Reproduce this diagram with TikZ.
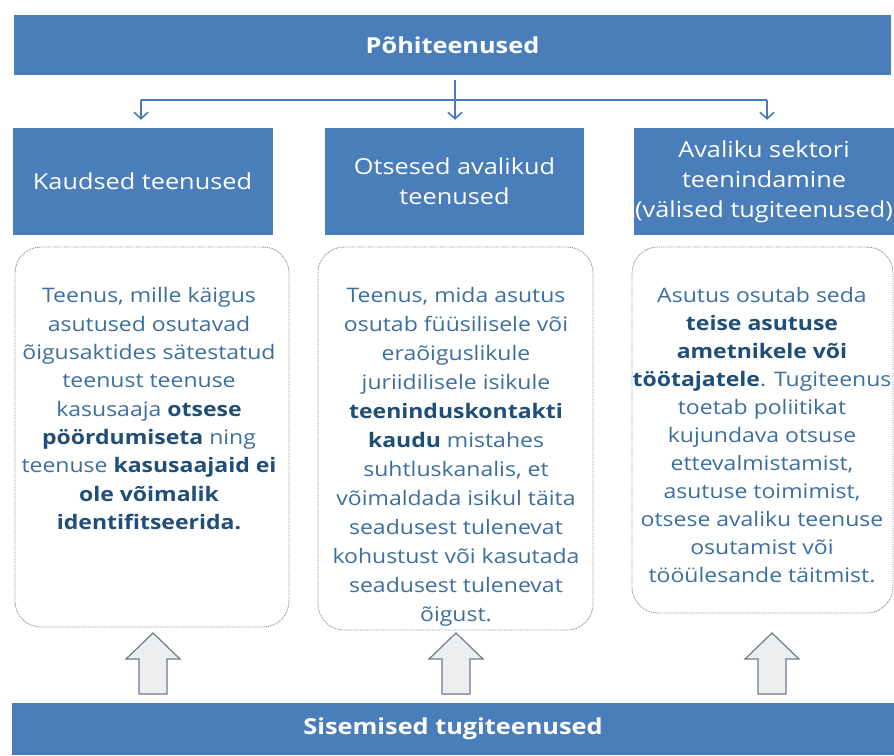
\documentclass[tikz,border=0pt]{standalone}
\usepackage{fontspec}
\setmainfont{Open Sans}[FakeStretch=1.15]
\usetikzlibrary{arrows.meta}
\definecolor{barblue}{HTML}{4A7EBB}
\definecolor{linkblue}{HTML}{4A7BBF}
\definecolor{bodyblue}{HTML}{3D6F9E}
\definecolor{boldblue}{HTML}{1F4E79}
\definecolor{dotgrey}{HTML}{8092A8}
\definecolor{arrowfill}{HTML}{ECEEF0}
\definecolor{arrowline}{HTML}{6F7C8C}
\newcommand{\strongword}[1]{{\bfseries\color{boldblue}#1}}
\tikzset{
  liftarrow/.pic={
    \draw[fill=arrowfill, draw=arrowline, line width=1.2pt, line join=miter]
      (-14,0) -- (-14,-35) -- (-27,-35) -- (0,-61) -- (27,-35) -- (14,-35) -- (14,0) -- cycle;
  }
}
\begin{document}
\begin{tikzpicture}[x=1pt, y=-1pt,
  bar/.style={fill=barblue, inner sep=0pt, text=white,
    font=\fontsize{22}{26}\selectfont\bfseries},
  hdrbox/.style={fill=barblue, inner sep=0pt, minimum height=107pt},
  hdrtext/.style={text=white, align=center, inner sep=0pt,
    font=\fontsize{22}{30}\selectfont},
  card/.style={draw=dotgrey, line width=0.9pt, dash pattern=on 0.9pt off 0.9pt,
    rounded corners=26pt, inner sep=0pt},
  cardtext/.style={text=bodyblue, align=center, anchor=north, inner sep=0pt},
  link/.style={draw=linkblue, line width=1.6pt},
  tip/.style={link, -{Straight Barb[length=6.5pt,width=14pt,line width=1.6pt]}}
]
\fill[white] (0,0) rectangle (894,755);
\useasboundingbox (0,0) rectangle (894,755);

% top bar
\node[bar, minimum width=877pt, minimum height=60pt] (top) at (452.5,45) {Põhiteenused};

% three service headers
\node[hdrbox, minimum width=260pt] (h1) at (142.5,181.5) {};
\node[hdrbox, minimum width=259pt] (h2) at (454.5,181.5) {};
\node[hdrbox, minimum width=260pt] (h3) at (764,181.5) {};
\node[hdrtext] (h1t) at (h1) {Kaudsed teenused};
\node[hdrtext] (h2t) at (h2) {Otsesed avalikud\\teenused};
\node[hdrtext] (h3t) at (h3) {Avaliku sektori\\teenindamine\\(välised tugiteenused)};

% branching connector
\coordinate (jm) at (455,100);
\coordinate (jl) at (141,100);
\coordinate (jr) at (767,100);
\draw[link] ([yshift=-5pt]top.south -| jm) -- (jm);
\draw[link] (jl) -- (jr);
\draw[tip, shorten >=8pt] (jl) -- (jl |- h1.north);
\draw[tip, shorten >=8pt] (jm) -- (jm |- h2.north);
\draw[tip, shorten >=8pt] (jr) -- (jr |- h3.north);

% description cards
\node[card, minimum width=274pt, minimum height=380pt] (c1) at (152,437) {};
\node[card, minimum width=275pt, minimum height=383pt] (c2) at (455.5,438.5) {};
\node[card, minimum width=261pt, minimum height=366pt] (c3) at (762.5,430) {};

\node[cardtext, font=\fontsize{20}{28.3}\selectfont] (t1) at (149,287.5)
  {Teenus, mille käigus\\asutused osutavad\\õigusaktides sätestatud\\teenust teenuse\\
   kasusaaja \strongword{otsese}\\\strongword{pöördumiseta} ning\\
   teenuse \strongword{kasusaajaid ei}\\\strongword{ole võimalik}\\\strongword{identifitseerida.}};
\node[cardtext, font=\fontsize{20}{29}\selectfont] (t2) at (456,287.5)
  {Teenus, mida asutus\\osutab füüsilisele või\\eraõiguslikule\\juriidilisele isikule\\
   \strongword{teeninduskontakti}\\\strongword{kaudu} mistahes\\suhtluskanalis, et\\
   võimaldada isikul täita\\seadusest tulenevat\\kohustust või kasutada\\
   seadusest tulenevat\\õigust.};
\node[cardtext, font=\fontsize{20}{28}\selectfont] (t3) at (762,287)
  {Asutus osutab seda\\\strongword{teise asutuse}\\\strongword{ametnikele või}\\
   \strongword{töötajatele}. Tugiteenus\\toetab poliitikat\\kujundava otsuse\\
   ettevalmistamist,\\asutuse toimimist,\\otsese avaliku teenuse\\
   osutamist või\\tööülesande täitmist.};

% bottom bar and support arrows
\node[bar, minimum width=882pt, minimum height=52pt] (bottom) at (453,729) {Sisemised tugiteenused};
\pic at (153,694) {liftarrow};
\pic at (456,694) {liftarrow};
\pic at (772,694) {liftarrow};
\end{tikzpicture}
\end{document}
